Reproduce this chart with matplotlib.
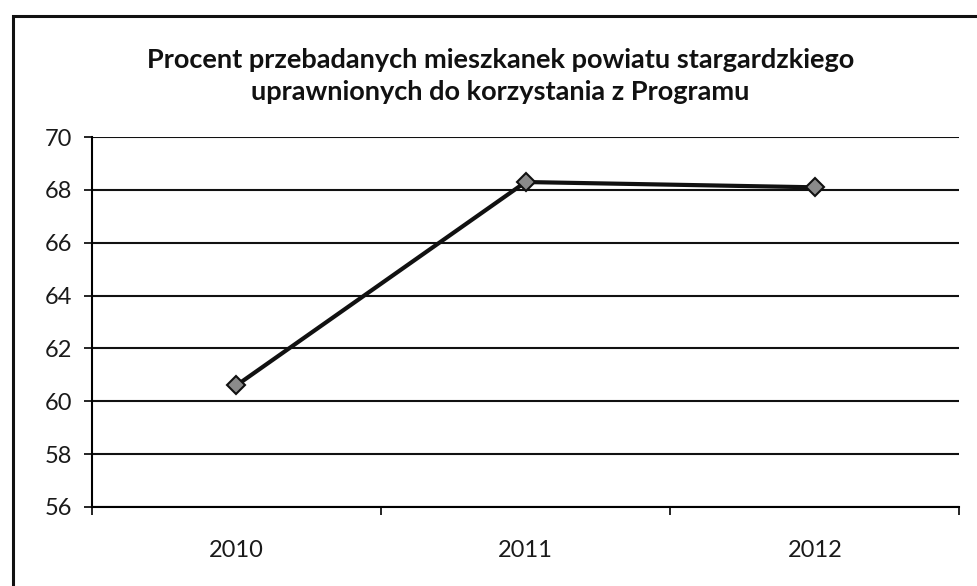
import matplotlib.pyplot as plt
from matplotlib.patches import Rectangle

years = ['2010', '2011', '2012']
values = [60.6, 68.3, 68.1]
yticks = [56, 58, 60, 62, 64, 66, 68, 70]

plt.rcParams['font.family'] = ['Lato', 'DejaVu Sans']

fig = plt.figure(figsize=(9.77, 5.86), dpi=100)
ax = fig.add_axes([0.094, 0.135, 0.888, 0.631])

x = [0.5, 1.5, 2.5]
ax.plot(x, values, color='#111111', lw=3, marker='D', ms=9,
        mfc='#8a8a8a', mec='#111111', mew=1.5, zorder=3)

ax.set_xlim(0, 3)
ax.set_ylim(56, 70)
ax.set_yticks(yticks)
ax.set_xticks(x)
ax.set_xticklabels(years)
ax.set_xticks([0, 1, 2, 3], minor=True)
ax.tick_params(axis='x', which='major', length=0, pad=24, labelsize=17,
               labelcolor='#1a1a1a')
ax.tick_params(axis='x', which='minor', length=6, width=1.2, direction='out')
ax.tick_params(axis='y', length=6, width=1.2, labelsize=17, pad=8,
               labelcolor='#1a1a1a')
ax.yaxis.grid(True, color='#111111', lw=1.5)
ax.set_axisbelow(True)
for s in ['top', 'right']:
    ax.spines[s].set_visible(False)
ax.spines['left'].set_linewidth(1.5)
ax.spines['bottom'].set_linewidth(1.5)

fig.text(0.512, 0.87, 'Procent przebadanych mieszkanek powiatu stargardzkiego\n'
         'uprawnionych do korzystania z Programu',
         ha='center', va='center', fontsize=19.5, fontweight='bold',
         linespacing=1.4, color='#111111')

# outer chart frame (only top and left edges fall inside the picture)
fig.patches.append(Rectangle((0.013, -0.1), 1.1, 1.073,
                             transform=fig.transFigure, fill=False,
                             lw=2.2, ec='#111111'))

fig.savefig('out.png', dpi=100)
